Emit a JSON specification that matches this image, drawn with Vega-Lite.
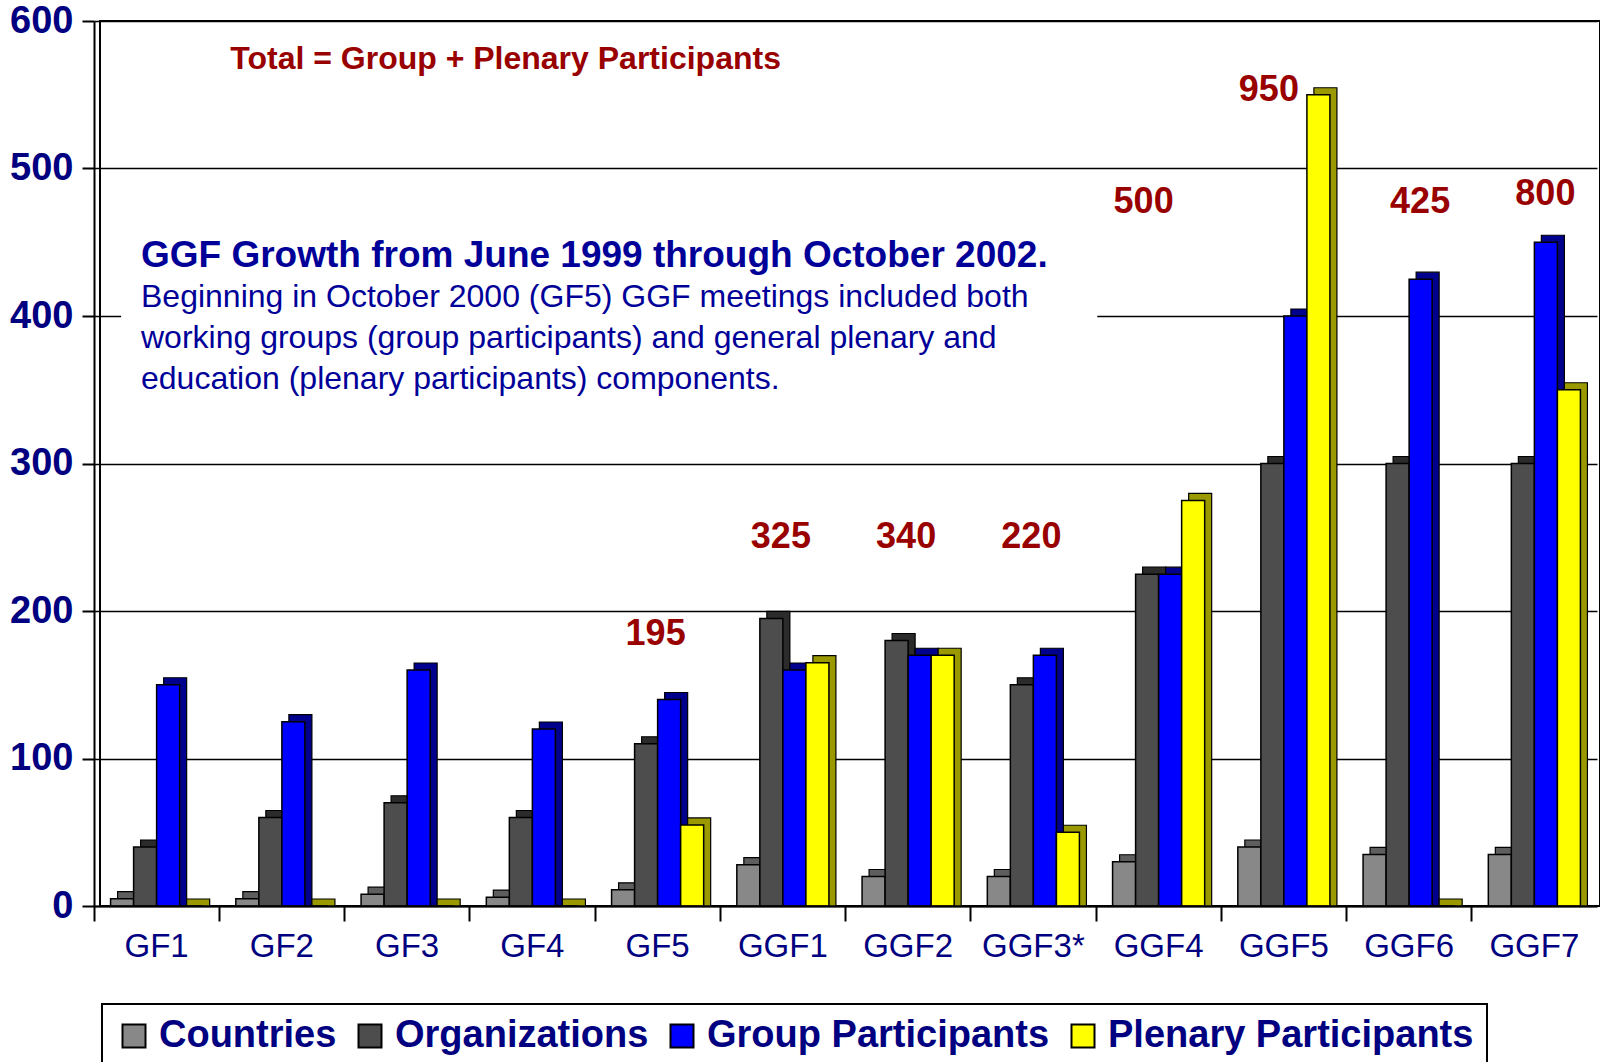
{
  "$schema": "https://vega.github.io/schema/vega-lite/v6.json",
  "width": 1500,
  "height": 885,
  "autosize": {"type": "none"},
  "padding": {"left": 100, "top": 21, "right": 0, "bottom": 156},
  "background": "white",
  "config": {
    "font": "Liberation Sans",
    "view": {"stroke": "black", "strokeWidth": 2},
    "legend": {"strokeColor": "black", "strokeWidth": 2, "fillColor": "white", "padding": 13}
  },
  "resolve": {"scale": {"color": "independent", "xOffset": "independent"}},
  "datasets": {
    "bars": [
      {"meeting": "GF1", "series": "Countries", "value": 5},
      {"meeting": "GF1", "series": "Organizations", "value": 40},
      {"meeting": "GF1", "series": "Group Participants", "value": 150},
      {"meeting": "GF1", "series": "Plenary Participants", "value": 0},
      {"meeting": "GF2", "series": "Countries", "value": 5},
      {"meeting": "GF2", "series": "Organizations", "value": 60},
      {"meeting": "GF2", "series": "Group Participants", "value": 125},
      {"meeting": "GF2", "series": "Plenary Participants", "value": 0},
      {"meeting": "GF3", "series": "Countries", "value": 8},
      {"meeting": "GF3", "series": "Organizations", "value": 70},
      {"meeting": "GF3", "series": "Group Participants", "value": 160},
      {"meeting": "GF3", "series": "Plenary Participants", "value": 0},
      {"meeting": "GF4", "series": "Countries", "value": 6},
      {"meeting": "GF4", "series": "Organizations", "value": 60},
      {"meeting": "GF4", "series": "Group Participants", "value": 120},
      {"meeting": "GF4", "series": "Plenary Participants", "value": 0},
      {"meeting": "GF5", "series": "Countries", "value": 11},
      {"meeting": "GF5", "series": "Organizations", "value": 110},
      {"meeting": "GF5", "series": "Group Participants", "value": 140},
      {"meeting": "GF5", "series": "Plenary Participants", "value": 55},
      {"meeting": "GGF1", "series": "Countries", "value": 28},
      {"meeting": "GGF1", "series": "Organizations", "value": 195},
      {"meeting": "GGF1", "series": "Group Participants", "value": 160},
      {"meeting": "GGF1", "series": "Plenary Participants", "value": 165},
      {"meeting": "GGF2", "series": "Countries", "value": 20},
      {"meeting": "GGF2", "series": "Organizations", "value": 180},
      {"meeting": "GGF2", "series": "Group Participants", "value": 170},
      {"meeting": "GGF2", "series": "Plenary Participants", "value": 170},
      {"meeting": "GGF3*", "series": "Countries", "value": 20},
      {"meeting": "GGF3*", "series": "Organizations", "value": 150},
      {"meeting": "GGF3*", "series": "Group Participants", "value": 170},
      {"meeting": "GGF3*", "series": "Plenary Participants", "value": 50},
      {"meeting": "GGF4", "series": "Countries", "value": 30},
      {"meeting": "GGF4", "series": "Organizations", "value": 225},
      {"meeting": "GGF4", "series": "Group Participants", "value": 225},
      {"meeting": "GGF4", "series": "Plenary Participants", "value": 275},
      {"meeting": "GGF5", "series": "Countries", "value": 40},
      {"meeting": "GGF5", "series": "Organizations", "value": 300},
      {"meeting": "GGF5", "series": "Group Participants", "value": 400},
      {"meeting": "GGF5", "series": "Plenary Participants", "value": 550},
      {"meeting": "GGF6", "series": "Countries", "value": 35},
      {"meeting": "GGF6", "series": "Organizations", "value": 300},
      {"meeting": "GGF6", "series": "Group Participants", "value": 425},
      {"meeting": "GGF6", "series": "Plenary Participants", "value": 0},
      {"meeting": "GGF7", "series": "Countries", "value": 35},
      {"meeting": "GGF7", "series": "Organizations", "value": 300},
      {"meeting": "GGF7", "series": "Group Participants", "value": 450},
      {"meeting": "GGF7", "series": "Plenary Participants", "value": 350}
    ],
    "totals": [
      {"meeting": "GF5", "total": 195, "labelAt": 177},
      {"meeting": "GGF1", "total": 325, "labelAt": 243},
      {"meeting": "GGF2", "total": 340, "labelAt": 243},
      {"meeting": "GGF3*", "total": 220, "labelAt": 243},
      {"meeting": "GGF4", "total": 500, "labelAt": 470},
      {"meeting": "GGF5", "total": 950, "labelAt": 546},
      {"meeting": "GGF6", "total": 425, "labelAt": 470},
      {"meeting": "GGF7", "total": 800, "labelAt": 475}
    ]
  },
  "layer": [
    {
      "data": {"values": [{}]},
      "mark": {"type": "rect", "fill": "white"},
      "encoding": {
        "x": {"datum": "GF1", "type": "nominal", "bandPosition": 0.216, "axis": {"title": null}},
        "x2": {"datum": "GGF4", "bandPosition": 0.01},
        "y": {"datum": 392, "type": "quantitative", "axis": {"title": null}},
        "y2": {"datum": 408}
      }
    },
    {
      "data": {"name": "bars"},
      "mark": {"type": "bar", "yOffset": -7, "y2Offset": 7, "stroke": "black", "strokeWidth": 1.2},
      "encoding": {
        "x": {
          "field": "meeting", "type": "nominal", "sort": null,
          "scale": {"type": "band", "domain": ["GF1","GF2","GF3","GF4","GF5","GGF1","GGF2","GGF3*","GGF4","GGF5","GGF6","GGF7"], "range": [-6, 1497], "paddingInner": 0, "paddingOuter": 0},
          "axis": {
            "title": null, "labelAngle": 0, "labelFont": "Liberation Sans", "labelFontSize": 33, "labelColor": "#000080",
            "bandPosition": 0, "labelAlign": "center",
            "labelPadding": 25, "tickSize": 15, "tickWidth": 2, "tickColor": "black",
            "domainColor": "black", "domainWidth": 2, "grid": false
          }
        },
        "xOffset": {
          "field": "series", "type": "nominal",
          "scale": {"domain": ["Countries", "Organizations", "Group Participants", "Plenary Participants"], "range": [7, 132.25], "paddingOuter": 0.72, "paddingInner": 0}
        },
        "y": {
          "field": "value", "type": "quantitative", "stack": null,
          "scale": {"domain": [0, 600], "nice": false, "zero": true},
          "axis": {
            "title": null, "values": [0, 100, 200, 300, 400, 500, 600], "labelFont": "Liberation Sans", "labelFontWeight": "bold",
            "labelFontSize": 38, "labelColor": "#000080", "labelPadding": 9, "tickSize": 12, "tickWidth": 2, "tickColor": "black",
            "domainColor": "black", "domainWidth": 2, "offset": 6, "grid": true, "gridColor": "black", "gridWidth": 1.6, "labelFlush": false
          }
        },
        "color": {
          "field": "series", "type": "nominal", "legend": null,
          "scale": {"domain": ["Countries", "Organizations", "Group Participants", "Plenary Participants"], "range": ["#5e5e5e", "#2b2b2b", "#00008c", "#9a9a00"]}
        }
      }
    },
    {
      "data": {"name": "bars"},
      "mark": {"type": "bar", "stroke": "black", "strokeWidth": 1.5},
      "encoding": {
        "x": {"field": "meeting", "type": "nominal", "sort": null, "axis": {"title": null}},
        "xOffset": {
          "field": "series", "type": "nominal",
          "scale": {"domain": ["Countries", "Organizations", "Group Participants", "Plenary Participants"], "paddingOuter": 0.72, "paddingInner": 0}
        },
        "y": {"field": "value", "type": "quantitative", "stack": null, "axis": {"title": null}},
        "color": {
          "field": "series", "type": "nominal",
          "scale": {"domain": ["Countries", "Organizations", "Group Participants", "Plenary Participants"], "range": ["#888888", "#4d4d4d", "#0000ff", "#ffff00"]},
          "legend": {
            "title": null, "orient": "none", "legendX": 2, "legendY": 983, "direction": "horizontal", "columns": 4,
            "symbolType": "square", "symbolSize": 529, "symbolStrokeColor": "black", "symbolStrokeWidth": 2, "symbolOpacity": 1,
            "labelFont": "Liberation Sans", "labelFontSize": 38, "labelFontWeight": "bold", "labelColor": "#000080",
            "labelLimit": 1000, "labelOffset": 6, "columnPadding": 14
          }
        }
      }
    },
    {
      "data": {"name": "totals"},
      "transform": [{"filter": {"field": "meeting", "oneOf": ["GF5", "GGF1", "GGF2", "GGF3*"]}}],
      "mark": {"type": "text", "font": "Liberation Sans", "fontWeight": "bold", "fontSize": 36, "color": "#990000", "baseline": "alphabetic", "dx": -2},
      "encoding": {
        "x": {"field": "meeting", "type": "nominal", "sort": null, "axis": {"title": null}},
        "y": {"field": "labelAt", "type": "quantitative", "axis": {"title": null}},
        "text": {"field": "total", "type": "quantitative"}
      }
    },
    {
      "data": {"name": "totals"},
      "transform": [{"filter": {"field": "meeting", "oneOf": ["GGF4", "GGF5"]}}],
      "mark": {"type": "text", "font": "Liberation Sans", "fontWeight": "bold", "fontSize": 36, "color": "#990000", "baseline": "alphabetic", "dx": -15},
      "encoding": {
        "x": {"field": "meeting", "type": "nominal", "sort": null, "axis": {"title": null}},
        "y": {"field": "labelAt", "type": "quantitative", "axis": {"title": null}},
        "text": {"field": "total", "type": "quantitative"}
      }
    },
    {
      "data": {"name": "totals"},
      "transform": [{"filter": {"field": "meeting", "oneOf": ["GGF6", "GGF7"]}}],
      "mark": {"type": "text", "font": "Liberation Sans", "fontWeight": "bold", "fontSize": 36, "color": "#990000", "baseline": "alphabetic", "dx": 11},
      "encoding": {
        "x": {"field": "meeting", "type": "nominal", "sort": null, "axis": {"title": null}},
        "y": {"field": "labelAt", "type": "quantitative", "axis": {"title": null}},
        "text": {"field": "total", "type": "quantitative"}
      }
    },
    {
      "data": {"values": [{}]},
      "mark": {"type": "text", "align": "left", "baseline": "alphabetic", "font": "Liberation Sans", "fontWeight": "bold", "fontSize": 32, "color": "#990000", "dx": 11},
      "encoding": {
        "x": {"datum": "GF2", "type": "nominal", "bandPosition": 0, "axis": {"title": null}},
        "y": {"datum": 567.5, "type": "quantitative", "axis": {"title": null}},
        "text": {"value": "Total = Group + Plenary Participants"}
      }
    },
    {
      "data": {"values": [{}]},
      "mark": {"type": "text", "align": "left", "baseline": "alphabetic", "font": "Liberation Sans", "fontWeight": "bold", "fontSize": 37, "color": "#000099", "dx": 47},
      "encoding": {
        "x": {"datum": "GF1", "type": "nominal", "bandPosition": 0, "axis": {"title": null}},
        "y": {"datum": 433.4, "type": "quantitative", "axis": {"title": null}},
        "text": {"value": "GGF Growth from June 1999 through October 2002."}
      }
    },
    {
      "data": {"values": [{}]},
      "mark": {"type": "text", "align": "left", "baseline": "alphabetic", "font": "Liberation Sans", "fontSize": 32, "color": "#000099", "dx": 47, "lineHeight": 41},
      "encoding": {
        "x": {"datum": "GF1", "type": "nominal", "bandPosition": 0, "axis": {"title": null}},
        "y": {"datum": 406.3, "type": "quantitative", "axis": {"title": null}},
        "text": {"value": ["Beginning in October 2000 (GF5) GGF meetings included both", "working groups (group participants) and general plenary and", "education (plenary participants) components."]}
      }
    }
  ]
}
